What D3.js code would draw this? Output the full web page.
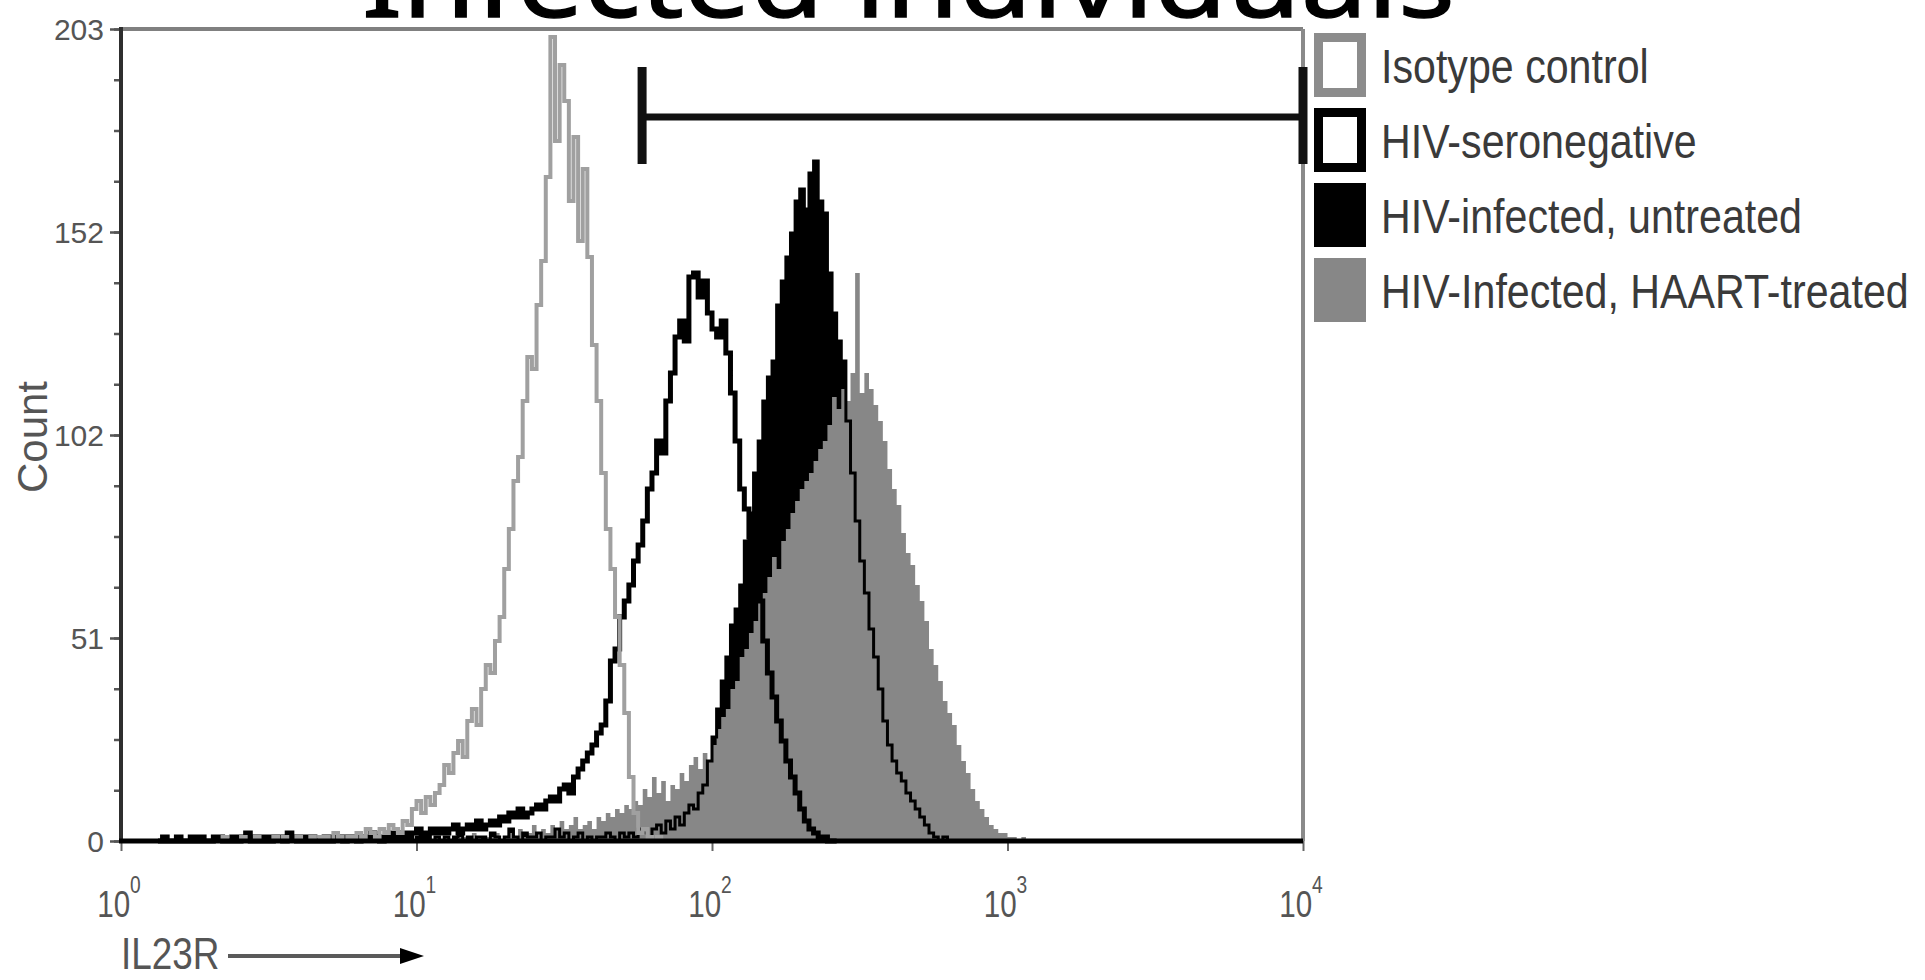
<!DOCTYPE html>
<html>
<head>
<meta charset="utf-8">
<script src="https://cdn.jsdelivr.net/npm/d3@7"></script>
<style>
  html, body { margin: 0; padding: 0; background: #fff; overflow: hidden; }
  svg { display: block; }
</style>
</head>
<body>
<svg id="chart" width="1925" height="980"></svg>
<script>
// Log-scaled flow histogram: 64 channels per decade over four decades.
const channelsPerDecade = 64;

// Counts per channel, each series starting at its own first channel.
const isotypeStart = 20;
const isotypeCounts = [
  0,0,1,0,0,0,1,0,0,1, 0,0,0,1,0,1,0,0,1,0,
  0,1,0,1,1,0,2,1,0,1, 1,2,1,3,2,1,3,2,4,3,
  2,5,4,8,10,7,11,9,12,14, 19,17,22,25,21,30,33,29,38,44,
  42,50,56,68,78,90,96,110,121,118, 134,145,166,201,175,194,185,160,176,150,
  168,146,124,110,92,78,68,56,44,32, 16,7,2,3,1,0,1,0,0,0
];

const seronegStart = 8;
const seronegCounts = [
  0,1,0,0,1,0,0,1,0,1,0,0,1,1,0,0,1,0,1,2,0,1,0,1,0,1,1,0,2,1,0,1,
  0,1,0,0,1,0,1,1,0,1, 1,0,1,1,2,1,0,1,2,1,
  1,2,1,2,3,1,2,3,2,3, 2,3,4,2,3,4,3,5,3,4,
  5,4,6,5,7,6,8,6,7,8, 9,8,10,11,10,13,14,12,16,18,
  20,22,24,27,29,35,45,48,56,60, 64,70,74,80,88,92,100,97,110,117,
  126,130,125,141,142,136,140,132,128,126, 130,122,112,100,88,83,76,70,60,50,
  42,36,30,25,20,16,12,8,5,3, 2,1,1,0,0
];

const untreatedStart = 60;
const untreatedCounts = [
  0,1,0,0,1,0,2,0,1,0, 1,0,1,2,0,1,0,1,1,0,
  2,1,0,1,3,1,0,2,1,1, 2,0,1,1,3,1,2,0,1,2,
  0,1,0,1,1,2,1,0,2,1, 2,1,3,2,1,3,4,2,5,3,
  6,4,7,9,8,12,14,20,26,33, 40,46,54,58,64,75,82,92,100,110,
  116,120,134,140,146,152,160,163,158,167, 170,160,157,142,132,125,120,105,92,80,
  70,62,53,46,38,30,24,20,17,15, 12,10,8,6,4,2,1,0,1,0
];

const haartStart = 60;
const haartCounts = [
  0,0,1,0,0,1,0,0,1,0, 1,0,0,1,1,0,2,1,0,1,
  1,2,0,1,2,1,3,1,2,4, 2,3,2,4,3,5,3,4,6,3,
  4,5,3,6,5,7,6,8,7,9, 8,10,9,13,11,16,12,15,10,14,
  13,17,15,19,21,18,22,20,24,28, 31,33,38,40,46,48,52,55,60,62,
  66,71,68,75,78,82,85,88,90,92, 95,98,100,104,111,108,113,110,117,142,
  112,117,113,109,105,100,93,88,84,77, 72,69,64,60,55,48,44,40,35,32,
  29,24,20,17,13,10,8,6,4,3, 2,2,1,1,0,1,0,0
];

// Axes and annotations
const yMax = 203;
const yMajorTicks = [0, 50.75, 101.5, 152.25, 203];
const yMinorTicks = d3.range(0, 17).map(k => yMax * k / 16);
const xDomain = [1, 10000];
const xMajorTicks = [1, 10, 100, 1000, 10000];
const xExponents = [0, 1, 2, 3, 4];
const gateRange = [58, 10000];
const legendLabels = ["Isotype control", "HIV-seronegative", "HIV-infected, untreated", "HIV-Infected, HAART-treated"];
const titleText = "Infected individuals";
const xLabel = "IL23R";
const yLabel = "Count";

const svg = d3.select("#chart");
const plot = { left: 121, right: 1303, top: 29, bottom: 841 };

const x = d3.scaleLog().domain(xDomain).range([plot.left, plot.right]);
const y = d3.scaleLinear().domain([0, yMax]).range([plot.bottom, plot.top]);

const sansFont = "'Liberation Sans', Arial, sans-serif";

// Title (runs off the top edge)
svg.append("text")
  .attr("x", 362).attr("y", 17)
  .attr("font-family", "'Noto Sans', sans-serif")
  .attr("font-size", 104)
  .attr("fill", "#000")
  .attr("stroke", "#000").attr("stroke-width", 1.4)
  .attr("textLength", 1093)
  .attr("lengthAdjust", "spacingAndGlyphs")
  .text(titleText);

// Step outline points for a channel histogram
function stepPoints(start, counts) {
  const pts = [];
  counts.forEach((v, i) => {
    const lo = Math.pow(10, (start + i) / channelsPerDecade);
    const hi = Math.pow(10, (start + i + 1) / channelsPerDecade);
    pts.push([lo, v], [hi, v]);
  });
  return pts;
}

const line = d3.line().x(d => x(d[0])).y(d => y(d[1]));
const area = d3.area().x(d => x(d[0])).y0(y(0)).y1(d => y(d[1]));

const g = svg.append("g");

// Untreated: solid black fill
g.append("path").attr("d", area(stepPoints(untreatedStart, untreatedCounts)))
  .attr("fill", "#000");
// HAART-treated: grey fill laid over it
g.append("path").attr("d", area(stepPoints(haartStart, haartCounts)))
  .attr("fill", "#878787");
// Untreated outline stays visible over the grey
g.append("path").attr("d", line(stepPoints(untreatedStart, untreatedCounts)))
  .attr("fill", "none").attr("stroke", "#000").attr("stroke-width", 3);
// Seronegative: black open outline
g.append("path").attr("d", line(stepPoints(seronegStart, seronegCounts)))
  .attr("fill", "none").attr("stroke", "#000").attr("stroke-width", 5);
// Isotype: grey open outline
g.append("path").attr("d", line(stepPoints(isotypeStart, isotypeCounts)))
  .attr("fill", "none").attr("stroke", "#a0a0a0").attr("stroke-width", 4);

// Frame: grey top and right, dark left, heavy black baseline
svg.append("line").attr("x1", plot.left).attr("x2", plot.right)
  .attr("y1", plot.top).attr("y2", plot.top)
  .attr("stroke", "#808080").attr("stroke-width", 4);
svg.append("line").attr("x1", plot.right).attr("x2", plot.right)
  .attr("y1", plot.top).attr("y2", plot.bottom)
  .attr("stroke", "#8a8a8a").attr("stroke-width", 4);

// Y axis: minor ticks then labelled major ticks
const yMinorAxis = d3.axisLeft(y).tickValues(yMinorTicks).tickSize(7).tickFormat("");
const yMajorAxis = d3.axisLeft(y).tickValues(yMajorTicks).tickSize(11)
  .tickFormat(d => Math.round(d)).tickPadding(6);
const yMinG = svg.append("g").attr("transform", `translate(${plot.left},0)`).call(yMinorAxis);
const yMajG = svg.append("g").attr("transform", `translate(${plot.left},0)`).call(yMajorAxis);
[yMinG, yMajG].forEach(sel => {
  sel.select(".domain").remove();
  sel.selectAll(".tick line").attr("stroke", "#555").attr("stroke-width", 2.5);
});
yMajG.selectAll(".tick text")
  .attr("font-family", sansFont).attr("font-size", 30).attr("fill", "#555")
  .attr("dy", "0.36em");

svg.append("line").attr("x1", plot.left).attr("x2", plot.left)
  .attr("y1", plot.top - 2).attr("y2", plot.bottom + 2)
  .attr("stroke", "#2e2e2e").attr("stroke-width", 4);

// X axis: log ticks below the baseline
const xAxis = d3.axisBottom(x).ticks(4).tickSize(10).tickFormat("");
const xG = svg.append("g").attr("transform", `translate(0,${plot.bottom})`).call(xAxis);
xG.select(".domain").remove();
xG.selectAll(".tick line").attr("stroke", "#666").attr("stroke-width", 2);

svg.append("line").attr("x1", plot.left - 2).attr("x2", plot.right)
  .attr("y1", plot.bottom).attr("y2", plot.bottom)
  .attr("stroke", "#000").attr("stroke-width", 5);

// Decade labels 10^n
xMajorTicks.forEach((v, i) => {
  const gx = svg.append("g").attr("transform", `translate(${x(v) - 2},917) scale(0.8,1)`);
  const t = gx.append("text")
    .attr("text-anchor", "middle")
    .attr("font-family", sansFont).attr("fill", "#555");
  t.append("tspan").attr("font-size", 37).text("10");
  t.append("tspan").attr("font-size", 24).attr("dy", -24).text(xExponents[i]);
});

// Axis titles
svg.append("g").attr("transform", "translate(121,969) scale(0.82,1)")
  .append("text").attr("font-family", sansFont).attr("font-size", 45)
  .attr("fill", "#555").text(xLabel);
svg.append("line").attr("x1", 228).attr("x2", 404).attr("y1", 956).attr("y2", 956)
  .attr("stroke", "#5a5a5a").attr("stroke-width", 4);
svg.append("path").attr("d", "M400,948 L424,956 L400,964 Z").attr("fill", "#000");

svg.append("text")
  .attr("transform", "translate(47,437) rotate(-90)")
  .attr("text-anchor", "middle")
  .attr("font-family", sansFont).attr("font-size", 42).attr("fill", "#555")
  .text(yLabel);

// Positive gate marker
const gateY = 117;
svg.append("line").attr("x1", x(gateRange[0])).attr("x2", x(gateRange[1]))
  .attr("y1", gateY).attr("y2", gateY)
  .attr("stroke", "#111").attr("stroke-width", 7);
gateRange.forEach(v => {
  svg.append("line").attr("x1", x(v)).attr("x2", x(v))
    .attr("y1", gateY - 50).attr("y2", gateY + 47)
    .attr("stroke", "#111").attr("stroke-width", 9);
});

// Legend
const legendStyles = [
  { fill: "#fff", stroke: "#8c8c8c" },
  { fill: "#fff", stroke: "#000" },
  { fill: "#000", stroke: "#000" },
  { fill: "#878787", stroke: "#878787" }
];
legendLabels.forEach((label, i) => {
  const cy = 65 + i * 75;
  svg.append("rect")
    .attr("x", 1318.5).attr("y", cy - 27.5).attr("width", 43).attr("height", 55)
    .attr("fill", legendStyles[i].fill)
    .attr("stroke", legendStyles[i].stroke).attr("stroke-width", 9);
  svg.append("g").attr("transform", `translate(1381,${cy + 18}) scale(0.84,1)`)
    .append("text").attr("font-family", sansFont).attr("font-size", 49)
    .attr("fill", "#3a3a3a").text(label);
});
</script>
</body>
</html>
